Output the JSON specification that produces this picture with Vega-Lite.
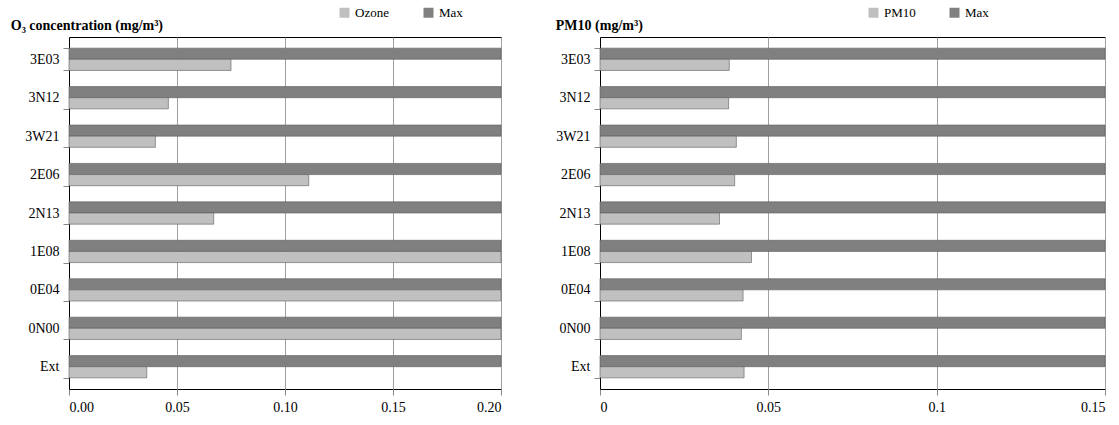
{
  "$schema": "https://vega.github.io/schema/vega-lite/v6.json",
  "background": "white",
  "padding": {"left": 10, "top": 5, "right": 5, "bottom": 2},
  "spacing": 53,
  "config": {
    "font": "Liberation Serif",
    "view": {"stroke": "black", "strokeWidth": 1},
    "axis": {"labelFont": "Liberation Serif", "labelFontSize": 14, "labelColor": "black", "tickColor": "#888888", "domainColor": "black", "gridColor": "#a0a0a0", "titleFont": "Liberation Serif"},
    "legend": {"labelFont": "Liberation Serif", "labelFontSize": 13, "symbolType": "square", "symbolSize": 100, "symbolStrokeWidth": 0},
    "title": {"font": "Liberation Serif"},
    "scale": {"offsetBandPaddingInner": 0, "offsetBandPaddingOuter": 0}
  },
  "resolve": {"scale": {"color": "independent", "yOffset": "independent", "y": "independent", "x": "independent"}, "legend": {"color": "independent"}},
  "hconcat": [
    {
      "width": 432,
      "height": 352,
      "title": {"text": "O₃ concentration (mg/m³)", "anchor": "start", "frame": "bounds", "dx": -14, "fontSize": 14, "fontWeight": "bold", "font": "Liberation Serif", "offset": -27},
      "data": {"values": [
        {"site": "3E03", "series": "Max", "value": 0.2}, {"site": "3E03", "series": "Ozone", "value": 0.075},
        {"site": "3N12", "series": "Max", "value": 0.2}, {"site": "3N12", "series": "Ozone", "value": 0.046},
        {"site": "3W21", "series": "Max", "value": 0.2}, {"site": "3W21", "series": "Ozone", "value": 0.040},
        {"site": "2E06", "series": "Max", "value": 0.2}, {"site": "2E06", "series": "Ozone", "value": 0.111},
        {"site": "2N13", "series": "Max", "value": 0.2}, {"site": "2N13", "series": "Ozone", "value": 0.067},
        {"site": "1E08", "series": "Max", "value": 0.2}, {"site": "1E08", "series": "Ozone", "value": 0.2},
        {"site": "0E04", "series": "Max", "value": 0.2}, {"site": "0E04", "series": "Ozone", "value": 0.2},
        {"site": "0N00", "series": "Max", "value": 0.2}, {"site": "0N00", "series": "Ozone", "value": 0.2},
        {"site": "Ext", "series": "Max", "value": 0.2}, {"site": "Ext", "series": "Ozone", "value": 0.036}
      ]},
      "mark": {"type": "bar", "stroke": "#5a5a5a", "strokeWidth": 0.6},
      "encoding": {
        "y": {"field": "site", "type": "nominal", "sort": ["3E03","3N12","3W21","2E06","2N13","1E08","0E04","0N00","Ext"], "title": null,
              "scale": {"paddingInner": 0.42, "paddingOuter": 0.29},
              "axis": {"domain": true, "ticks": true, "tickBand": "extent", "tickSize": 6, "labelPadding": 4}},
        "yOffset": {"field": "series", "type": "nominal", "sort": ["Max", "Ozone"], "scale": {"paddingInner": 0, "paddingOuter": 0}},
        "x": {"field": "value", "type": "quantitative", "title": null, "scale": {"domain": [0, 0.2], "nice": false},
              "axis": {"values": [0, 0.05, 0.1, 0.15, 0.2], "format": ".2f", "grid": true, "domain": false, "tickSize": 6, "labelPadding": 5}},
        "color": {"field": "series", "type": "nominal", "title": null,
                  "scale": {"domain": ["Ozone", "Max"], "range": ["#c0c0c0", "#808080"]},
                  "legend": {"orient": "none", "legendX": 269, "legendY": -31, "direction": "horizontal", "columnPadding": 33}}
      }
    },
    {
      "width": 505,
      "height": 352,
      "title": {"text": "PM10 (mg/m³)", "anchor": "start", "frame": "bounds", "dx": 0, "fontSize": 14, "fontWeight": "bold", "font": "Liberation Serif", "offset": -27},
      "data": {"values": [
        {"site": "3E03", "series": "Max", "value": 0.15}, {"site": "3E03", "series": "PM10", "value": 0.0384},
        {"site": "3N12", "series": "Max", "value": 0.15}, {"site": "3N12", "series": "PM10", "value": 0.0382},
        {"site": "3W21", "series": "Max", "value": 0.15}, {"site": "3W21", "series": "PM10", "value": 0.0405},
        {"site": "2E06", "series": "Max", "value": 0.15}, {"site": "2E06", "series": "PM10", "value": 0.040},
        {"site": "2N13", "series": "Max", "value": 0.15}, {"site": "2N13", "series": "PM10", "value": 0.0355},
        {"site": "1E08", "series": "Max", "value": 0.15}, {"site": "1E08", "series": "PM10", "value": 0.045},
        {"site": "0E04", "series": "Max", "value": 0.15}, {"site": "0E04", "series": "PM10", "value": 0.0425},
        {"site": "0N00", "series": "Max", "value": 0.15}, {"site": "0N00", "series": "PM10", "value": 0.042},
        {"site": "Ext", "series": "Max", "value": 0.15}, {"site": "Ext", "series": "PM10", "value": 0.0428}
      ]},
      "mark": {"type": "bar", "stroke": "#5a5a5a", "strokeWidth": 0.6},
      "encoding": {
        "y": {"field": "site", "type": "nominal", "sort": ["3E03","3N12","3W21","2E06","2N13","1E08","0E04","0N00","Ext"], "title": null,
              "scale": {"paddingInner": 0.42, "paddingOuter": 0.29},
              "axis": {"domain": true, "ticks": true, "tickBand": "extent", "tickSize": 6, "labelPadding": 4}},
        "yOffset": {"field": "series", "type": "nominal", "sort": ["Max", "PM10"], "scale": {"paddingInner": 0, "paddingOuter": 0}},
        "x": {"field": "value", "type": "quantitative", "title": null, "scale": {"domain": [0, 0.15], "nice": false},
              "axis": {"values": [0, 0.05, 0.1, 0.15], "format": ".2~f", "grid": true, "domain": false, "tickSize": 6, "labelPadding": 5}},
        "color": {"field": "series", "type": "nominal", "title": null,
                  "scale": {"domain": ["PM10", "Max"], "range": ["#c0c0c0", "#808080"]},
                  "legend": {"orient": "none", "legendX": 267, "legendY": -31, "direction": "horizontal", "columnPadding": 32}}
      }
    }
  ]
}
